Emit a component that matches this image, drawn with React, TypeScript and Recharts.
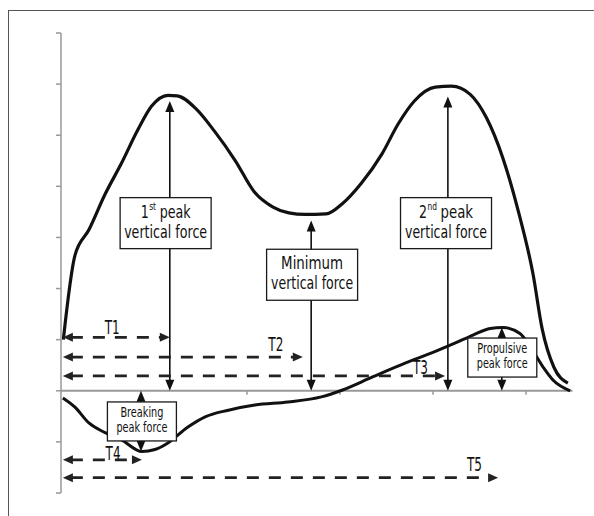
import React from "react";
import { LineChart, Line, XAxis, YAxis, ReferenceLine, ReferenceDot } from "recharts";

// vertical ground reaction force (time in % of stance, force in BW units)
const vfTime = [0.5, 3, 6, 9.5, 13, 16.5, 19.5, 23, 25, 29, 33, 37.5, 41.5, 45.5, 49, 52.5, 57, 60.5, 64.5, 69, 72.5, 76, 80.5, 84, 88, 91.5, 95, 98.5, 101.5, 103.5, 106, 109];
const vfForce = [1.0, 2.65, 3.15, 3.85, 4.45, 5.1, 5.57, 5.78, 5.77, 5.52, 5.08, 4.5, 3.9, 3.6, 3.48, 3.45, 3.46, 3.66, 4.05, 4.63, 5.22, 5.67, 5.94, 5.96, 5.8, 5.34, 4.56, 3.46, 2.29, 1.2, 0.46, 0.15];

// antero-posterior force (breaking / propulsive)
const apTime = [0.4, 3, 6, 9.5, 13, 17.4, 20.2, 23, 27.3, 31, 36, 41.7, 48.8, 56, 60.4, 67, 74, 80, 84.7, 88.6, 92.3, 95, 98.7, 101, 103.7, 105.8, 109.5];
const apForce = [-0.14, -0.32, -0.63, -0.82, -0.96, -1.19, -1.15, -1.02, -0.71, -0.51, -0.38, -0.28, -0.22, -0.12, 0.01, 0.27, 0.54, 0.75, 0.93, 1.09, 1.22, 1.24, 1.12, 0.85, 0.46, 0.21, 0];

const yTicks = [-2, -1, 0, 1, 2, 3, 4, 5, 6, 7];
const xTicks = [40, 60, 80, 100];

// timing intervals, all measured from first contact
const timingNames = ["T1", "T2", "T3", "T4", "T5"];
const timingLevel = [1.045, 0.66, 0.29, -1.35, -1.7];
const timingEnd = [23.4, 52, 82.6, 17.4, 94];
const timingLabelT = [11, 46.2, 77.3, 11.2, 88.9];
const timingLabelF = [1.24, 0.91, 0.46, -1.22, -1.44];

// force markers (double arrows)
const markerTime = [23.4, 53.8, 83.2, 17.2, 94.8];
const markerTop = [5.67, 3.33, 5.76, -1.19, 1.24];

const boxes = [
  { lines: ["1st peak", "vertical force"], t: 22.5, f: 3.28, big: true, widths: [50, 83] },
  { lines: ["Minimum", "vertical force"], t: 54, f: 2.27, big: true, widths: [62, 82] },
  { lines: ["2nd peak", "vertical force"], t: 82.8, f: 3.28, big: true, widths: [54, 82] },
  { lines: ["Breaking", "peak force"], t: 17.4, f: -0.6, big: false, widths: [43, 51] },
  { lines: ["Propulsive", "peak force"], t: 94.9, f: 0.65, big: false, widths: [50, 51] },
];

const vfData = vfTime.map((t, i) => ({ t, f: vfForce[i] }));
const apData = apTime.map((t, i) => ({ t, f: apForce[i] }));

const FONT = "'Liberation Sans Narrow', 'DejaVu Sans Condensed', 'Liberation Sans', Arial, sans-serif";

function arrow(dashed: boolean) {
  return (p: any) => {
    const { x1, y1, x2, y2 } = p;
    const dx = x2 - x1;
    const dy = y2 - y1;
    const len = Math.hypot(dx, dy) || 1;
    const ux = dx / len;
    const uy = dy / len;
    const hl = dashed ? 10 : 11;
    const hw = 4.5;
    const head = (tx: number, ty: number, ax: number, ay: number) => {
      const bx = tx - ax * hl;
      const by = ty - ay * hl;
      return `${tx},${ty} ${bx - ay * hw},${by + ax * hw} ${bx + ay * hw},${by - ax * hw}`;
    };
    const color = dashed ? "#222" : "#111";
    return (
      <g>
        <line
          x1={x1 + ux * hl * 0.8}
          y1={y1 + uy * hl * 0.8}
          x2={x2 - ux * hl * 0.8}
          y2={y2 - uy * hl * 0.8}
          stroke={color}
          strokeWidth={dashed ? 2.8 : 1.6}
          strokeDasharray={dashed ? "12 10" : undefined}
        />
        <polygon points={head(x2, y2, ux, uy)} fill={color} />
        <polygon points={head(x1, y1, -ux, -uy)} fill={color} />
      </g>
    );
  };
}

function boxLine(text: string, x: number, y: number, size: number, width: number) {
  const m = text.match(/^(\d)(st|nd)\s*(.*)$/);
  if (m) {
    // ordinal with superscript, laid out piece by piece so nothing overlaps
    const sup = size * 0.55;
    const wMain = 8;
    const wSup = m[2] === "nd" ? 10.5 : 8;
    const gap = 3;
    const wRest = width - wMain - wSup - gap;
    const left = x - width / 2;
    return (
      <g fontFamily={FONT} fill="#111">
        <text x={left} y={y} fontSize={size} textLength={wMain} lengthAdjust="spacingAndGlyphs">{m[1]}</text>
        <text x={left + wMain + 0.5} y={y - size * 0.42} fontSize={sup} textLength={wSup - 1} lengthAdjust="spacingAndGlyphs">{m[2]}</text>
        <text x={left + wMain + wSup + gap} y={y} fontSize={size} textLength={wRest} lengthAdjust="spacingAndGlyphs">{m[3]}</text>
      </g>
    );
  }
  return (
    <text x={x} y={y} textAnchor="middle" fontSize={size} fontFamily={FONT} fill="#111" textLength={width} lengthAdjust="spacingAndGlyphs">
      {text}
    </text>
  );
}

function boxShape(b: (typeof boxes)[number]) {
  return (p: any) => {
    const { cx, cy } = p;
    const w = b.big ? 91 : 69;
    const h = b.big ? 51 : 39;
    const size = b.big ? 17.5 : 13.5;
    const off = b.big ? [-5.5, 14.5] : [-4.5, 10.5];
    return (
      <g>
        <rect x={cx - w / 2} y={cy - h / 2} width={w} height={h} fill="#fff" stroke="#1a1a1a" strokeWidth={1.3} />
        {boxLine(b.lines[0], cx, cy + off[0], size, b.widths[0])}
        {boxLine(b.lines[1], cx, cy + off[1], size, b.widths[1])}
      </g>
    );
  };
}

function labelShape(name: string) {
  return (p: any) => (
    <text x={p.cx} y={p.cy + 7} textAnchor="middle" fontSize={19} fontFamily={FONT} fill="#111" textLength={15} lengthAdjust="spacingAndGlyphs">
      {name}
    </text>
  );
}

export default function App() {
  return (
    <div style={{ position: "absolute", left: 0, top: 0, width: 594, height: 516, background: "#fff", overflow: "hidden" }}>
      <div style={{ position: "absolute", left: 8, top: 10, right: -4, bottom: -4, borderTop: "1.5px solid #555", borderLeft: "1.5px solid #555" }} />
      <div style={{ position: "absolute", left: 0, top: 0 }}>
        <LineChart width={594} height={516} margin={{ top: 33, right: 21.5, bottom: 23, left: 0 }}>
          <XAxis type="number" dataKey="t" domain={[0, 110]} hide allowDataOverflow />
          <YAxis
            type="number"
            domain={[-2, 7]}
            ticks={yTicks}
            width={61}
            tickSize={5}
            tickFormatter={() => ""}
            axisLine={{ stroke: "#999", strokeWidth: 1.5 }}
            tickLine={{ stroke: "#999", strokeWidth: 1.5 }}
            allowDataOverflow
          />
          <ReferenceLine y={0} stroke="#999" strokeWidth={2} />
          {xTicks.map((t) => (
            <ReferenceLine key={`xt-${t}`} segment={[{ x: t, y: 0 }, { x: t, y: -0.08 }]} stroke="#999" strokeWidth={1.5} ifOverflow="visible" />
          ))}
          <Line data={vfData} dataKey="f" type="monotone" stroke="#111" strokeWidth={3.2} dot={false} isAnimationActive={false} />
          <Line data={apData} dataKey="f" type="monotone" stroke="#111" strokeWidth={3} dot={false} isAnimationActive={false} />
          {markerTime.map((t, i) => (
            <ReferenceLine key={`m-${i}`} segment={[{ x: t, y: 0 }, { x: t, y: markerTop[i] }]} ifOverflow="visible" shape={arrow(false)} zIndex={2400} />
          ))}
          {timingNames.map((n, i) => (
            <ReferenceLine key={`tl-${n}`} segment={[{ x: 0.4, y: timingLevel[i] }, { x: timingEnd[i], y: timingLevel[i] }]} ifOverflow="visible" shape={arrow(true)} zIndex={2400} />
          ))}
          {timingNames.map((n, i) => (
            <ReferenceDot key={`lb-${n}`} x={timingLabelT[i]} y={timingLabelF[i]} r={1} ifOverflow="visible" shape={labelShape(n)} zIndex={2500} />
          ))}
          {boxes.map((b, i) => (
            <ReferenceDot key={`bx-${i}`} x={b.t} y={b.f} r={1} ifOverflow="visible" shape={boxShape(b)} zIndex={3000} />
          ))}
        </LineChart>
      </div>
    </div>
  );
}
